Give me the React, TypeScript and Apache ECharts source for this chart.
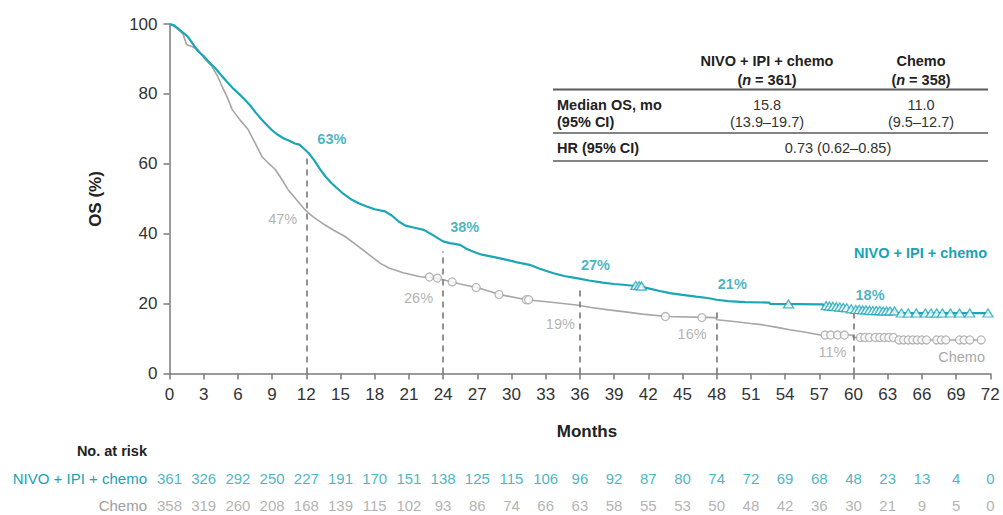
import React, { useEffect, useRef } from "react";
import * as echarts from "echarts";

const FONT = "'Liberation Sans', Arial, Helvetica, sans-serif";
const TEAL = "#1ba6b6";
const TEAL_TEXT = "#17a3b3";
const GRAY = "#a6a6a6";
const GRAY_TEXT = "#9e9e9e";

// Month ticks for the risk table
const riskMonths = [0, 3, 6, 9, 12, 15, 18, 21, 24, 27, 30, 33, 36, 39, 42, 45, 48, 51, 54, 57, 60, 63, 66, 69, 72];
const riskNivo = [361, 326, 292, 250, 227, 191, 170, 151, 138, 125, 115, 106, 96, 92, 87, 80, 74, 72, 69, 68, 48, 23, 13, 4, 0];
const riskChemo = [358, 319, 260, 208, 168, 139, 115, 102, 93, 86, 74, 66, 63, 58, 55, 53, 50, 48, 42, 36, 30, 21, 9, 5, 0];

// Kaplan-Meier curve points [month, OS %]
const kmNivo: [number, number][] = [
  [0, 100], [0.4, 99.6], [0.9, 98.3], [1.2, 97.5], [1.6, 96.4], [2.0, 94.5], [2.5, 92.2], [3.0, 90.8], [3.5, 89.0],
  [4.0, 87.4], [4.5, 85.5], [5.0, 83.6], [5.6, 81.5], [6.1, 80.0], [6.6, 78.4], [7.1, 76.6], [7.6, 74.5], [8.1, 72.6],
  [8.6, 70.9], [9.0, 69.6], [9.5, 68.3], [10.0, 67.3], [10.5, 66.6], [11.0, 65.8], [11.4, 65.5], [11.8, 64.3],
  [12.2, 63.1], [12.7, 61.0], [13.2, 58.5], [13.7, 56.3], [14.2, 54.5], [14.7, 53.0], [15.3, 51.3], [16.0, 49.7],
  [16.6, 48.7], [17.3, 47.8], [18.0, 47.0], [18.9, 46.4], [19.5, 45.2], [20.1, 43.5], [20.7, 42.3], [21.5, 41.7],
  [22.3, 41.1], [23.0, 39.8], [23.5, 38.8], [24.0, 37.8], [24.6, 37.3], [25.5, 36.8], [26.0, 35.8], [26.6, 34.9],
  [27.4, 34.0], [28.5, 33.3], [29.6, 32.5], [30.5, 31.8], [31.6, 31.1], [32.3, 30.2], [33.0, 29.4], [33.7, 28.7],
  [34.6, 27.9], [35.7, 27.3], [36.8, 26.6], [38.0, 26.0], [39.0, 25.6], [39.8, 25.4], [41.3, 24.9], [42.2, 24.2],
  [43.0, 23.6], [43.9, 23.0], [45.0, 22.5], [46.2, 22.0], [47.2, 21.6], [48.0, 21.1], [49.0, 20.7], [50.5, 20.4],
  [52.6, 20.3], [52.7, 19.9], [57.3, 19.8], [57.4, 19.4], [58.5, 19.1], [59.5, 18.7], [60.0, 18.3], [61.5, 18.0],
  [63.7, 17.9], [63.8, 17.3], [72, 17.3],
];

const kmChemo: [number, number][] = [
  [0, 100], [0.4, 99.4], [0.9, 98.0], [1.2, 97.0], [1.5, 94.1], [2.0, 93.5], [2.5, 92.7], [3.1, 90.0], [3.7, 87.9],
  [4.2, 85.2], [4.6, 82.2], [5.1, 78.8], [5.5, 75.5], [6.2, 72.5], [6.9, 69.8], [7.5, 66.0], [8.1, 62.1], [8.7, 60.1],
  [9.3, 58.3], [9.9, 55.3], [10.4, 52.6], [11.2, 49.5], [11.9, 46.8], [12.6, 44.8], [13.4, 43.0], [14.4, 41.0],
  [15.4, 39.2], [16.5, 36.5], [17.7, 33.5], [18.5, 31.5], [19.3, 30.1], [20.5, 28.8], [22.0, 27.7], [23.0, 27.4],
  [24.0, 26.8], [25.5, 25.6], [27.2, 24.4], [28.2, 23.4], [29.1, 22.5], [30.2, 21.8], [31.3, 21.1], [33.5, 20.4],
  [35.7, 19.6], [37.0, 18.9], [38.5, 18.2], [39.8, 17.7], [41.5, 17.0], [43.6, 16.3], [47.9, 16.0], [48.0, 15.4],
  [49.5, 14.9], [51.0, 14.3], [52.1, 13.9], [53.3, 13.2], [54.4, 12.5], [55.8, 11.8], [57.1, 11.0], [59.9, 11.0],
  [60.0, 10.3], [63.7, 10.3], [63.8, 9.6], [71.3, 9.6],
];

// Censor marks
const censorNivo: [number, number][] = [
  [40.9, 25.2], [41.2, 25.1], [41.4, 25.0], [54.3, 19.9], [57.6, 19.4], [57.9, 19.3], [58.2, 19.2], [58.5, 19.1],
  [58.8, 19.0], [59.1, 18.9], [59.4, 18.8], [59.8, 18.5], [60.2, 18.3], [60.5, 18.3], [60.8, 18.2], [61.1, 18.2],
  [61.4, 18.1], [61.7, 18.0], [62.0, 18.0], [62.3, 18.0], [62.6, 17.9], [62.9, 17.9], [63.2, 17.9], [63.6, 17.9],
  [64.2, 17.3], [64.8, 17.3], [65.5, 17.3], [66.3, 17.3], [66.8, 17.3], [67.3, 17.3], [67.8, 17.3], [68.5, 17.3],
  [69.3, 17.3], [70.2, 17.3], [71.8, 17.3],
];
const censorChemo: [number, number][] = [
  [22.8, 27.6], [23.5, 27.3], [24.8, 26.2], [26.9, 24.6], [28.9, 22.6], [31.3, 21.1], [31.5, 21.1], [43.5, 16.3],
  [46.7, 16.0], [57.5, 11.0], [58.0, 11.0], [58.6, 11.0], [59.2, 11.0], [60.6, 10.3], [61.0, 10.3], [61.4, 10.3],
  [61.9, 10.3], [62.3, 10.3], [62.7, 10.3], [63.1, 10.3], [63.5, 10.3], [64.0, 9.6], [64.4, 9.6], [64.8, 9.6],
  [65.2, 9.6], [65.6, 9.6], [66.0, 9.6], [66.4, 9.6], [67.3, 9.6], [67.7, 9.6], [68.1, 9.6], [69.3, 9.6],
  [69.7, 9.6], [70.2, 9.6], [71.2, 9.6],
];

// Landmark annotations
const landmarkMonths = [12, 24, 36, 48, 60];
const landmarkNivo = [63, 38, 27, 21, 18];
const landmarkChemo = [47, 26, 19, 16, 11];
const dashTop = [62, 35, 25, 18, 18];

const tealLabelOffset = [[11, -14], [7, -14], [1, -14], [1, -16], [2, -16]];
const grayLabelOffset = [[-9, 10], [-10, 15], [-5, 17], [-10, 16], [-7, 17]];

function App() {
  const ref = useRef<HTMLDivElement>(null);

  useEffect(() => {
    if (!ref.current) return;
    const chart = echarts.init(ref.current, undefined, { renderer: "svg" });

    const gridLeft = 169.5;
    const gridWidth = 820.8;

    const txt = (text: string, x: number, y: number, o: any = {}) => ({
      type: "text",
      x,
      y,
      rotation: o.rotation || 0,
      style: {
        text,
        fontFamily: FONT,
        fontSize: o.fontSize || 14.5,
        fontWeight: o.bold ? "bold" : "normal",
        fill: o.color || "#222",
        textAlign: o.align || "center",
        textVerticalAlign: "middle",
        rich: o.rich,
      },
      z: 10,
    });
    const hline = (y: number, w: number) => ({
      type: "line",
      shape: { x1: 553, y1: y, x2: 988, y2: y },
      style: { stroke: "#5a5a5a", lineWidth: w },
      z: 10,
    });
    const italicRich = {
      i: { fontStyle: "italic", fontWeight: "bold", fontSize: 14.5, fontFamily: FONT, fill: "#222" },
    };

    const option: any = {
      animation: false,
      textStyle: { fontFamily: FONT },
      grid: [
        { left: gridLeft, top: 24, width: gridWidth, height: 349.5 },
        { left: gridLeft, top: 470, width: gridWidth, height: 16 },
        { left: gridLeft, top: 497, width: gridWidth, height: 16 },
      ],
      xAxis: [
        {
          gridIndex: 0,
          type: "value",
          min: 0,
          max: 72,
          interval: 3,
          axisLine: { onZero: false, lineStyle: { color: "#7a7a7a", width: 1.5 } },
          axisTick: { length: 6, lineStyle: { color: "#7a7a7a", width: 1.5 } },
          axisLabel: { fontSize: 17, color: "#333", margin: 12, fontFamily: FONT },
          splitLine: { show: false },
        },
        { gridIndex: 1, type: "value", min: 0, max: 72, show: false },
        { gridIndex: 2, type: "value", min: 0, max: 72, show: false },
      ],
      yAxis: [
        {
          gridIndex: 0,
          type: "value",
          min: 0,
          max: 100,
          interval: 20,
          axisLine: { show: true, lineStyle: { color: "#7a7a7a", width: 1.5 } },
          axisTick: { show: true, length: 6, lineStyle: { color: "#7a7a7a", width: 1.5 } },
          axisLabel: { fontSize: 17, color: "#333", margin: 12, fontFamily: FONT },
          splitLine: { show: false },
        },
        { gridIndex: 1, type: "value", min: 0, max: 1, show: false },
        { gridIndex: 2, type: "value", min: 0, max: 1, show: false },
      ],
      series: [
        {
          type: "line",
          name: "Chemo",
          data: kmChemo,
          showSymbol: false,
          lineStyle: { color: GRAY, width: 1.6 },
          z: 3,
          markLine: {
            silent: true,
            symbol: ["none", "none"],
            label: { show: false },
            lineStyle: { type: [6, 5], color: "#777", width: 1.6 },
            data: landmarkMonths.map((m, i) => [{ coord: [m, 0] }, { coord: [m, dashTop[i]] }]),
          },
        },
        {
          type: "line",
          name: "NIVO + IPI + chemo",
          data: kmNivo,
          showSymbol: false,
          lineStyle: { color: TEAL, width: 2.2 },
          z: 4,
        },
        {
          type: "scatter",
          data: censorChemo,
          symbol: "circle",
          symbolSize: 8,
          itemStyle: { color: "#fff", borderColor: GRAY, borderWidth: 1.3 },
          z: 3,
        },
        {
          type: "scatter",
          data: censorNivo,
          symbol: "triangle",
          symbolSize: [10, 8],
          itemStyle: { color: "#fff", borderColor: TEAL, borderWidth: 1.3 },
          z: 5,
        },
        {
          type: "scatter",
          data: landmarkMonths.map((m, i) => ({
            value: [m, landmarkNivo[i]],
            label: { offset: tealLabelOffset[i] },
          })),
          symbolSize: 0.1,
          itemStyle: { color: "rgba(0,0,0,0)" },
          label: {
            show: true,
            position: "right",
            distance: 0,
            formatter: (p: any) => `${p.value[1]}%`,
            fontSize: 14.5,
            fontWeight: "bold",
            color: TEAL_TEXT,
            fontFamily: FONT,
          },
          z: 6,
        },
        {
          type: "scatter",
          data: landmarkMonths.map((m, i) => ({
            value: [m, landmarkChemo[i]],
            label: { offset: grayLabelOffset[i] },
          })),
          symbolSize: 0.1,
          itemStyle: { color: "rgba(0,0,0,0)" },
          label: {
            show: true,
            position: "left",
            distance: 0,
            formatter: (p: any) => `${p.value[1]}%`,
            fontSize: 14.5,
            color: GRAY_TEXT,
            fontFamily: FONT,
          },
          z: 6,
        },
        {
          type: "scatter",
          xAxisIndex: 1,
          yAxisIndex: 1,
          data: riskMonths.map((m, i) => [m, 0.5, riskNivo[i]]),
          symbolSize: 0.1,
          itemStyle: { color: "rgba(0,0,0,0)" },
          label: {
            show: true,
            position: "inside",
            formatter: (p: any) => `${p.value[2]}`,
            fontSize: 15,
            color: TEAL_TEXT,
            fontFamily: FONT,
          },
        },
        {
          type: "scatter",
          xAxisIndex: 2,
          yAxisIndex: 2,
          data: riskMonths.map((m, i) => [m, 0.5, riskChemo[i]]),
          symbolSize: 0.1,
          itemStyle: { color: "rgba(0,0,0,0)" },
          label: {
            show: true,
            position: "inside",
            formatter: (p: any) => `${p.value[2]}`,
            fontSize: 15,
            color: GRAY_TEXT,
            fontFamily: FONT,
          },
        },
      ],
      graphic: [
        txt("OS (%)", 95, 199, { bold: true, fontSize: 17, rotation: Math.PI / 2 }),
        txt("Months", 587, 431, { bold: true, fontSize: 17 }),
        txt("No. at risk", 147, 451, { bold: true, align: "right" }),
        txt("NIVO + IPI + chemo", 147, 478, { align: "right", fontSize: 15, color: TEAL_TEXT }),
        txt("Chemo", 147, 505, { align: "right", fontSize: 15, color: GRAY_TEXT }),
        txt("NIVO + IPI + chemo", 987, 253, { align: "right", bold: true, color: TEAL_TEXT }),
        txt("Chemo", 985, 357, { align: "right", color: "#a8a8a8" }),
        // table
        txt("NIVO + IPI + chemo", 767, 61, { bold: true }),
        txt("({i|n} = 361)", 767, 80, { bold: true, rich: italicRich }),
        txt("Chemo", 921, 61, { bold: true }),
        txt("({i|n} = 358)", 921, 80, { bold: true, rich: italicRich }),
        hline(89.5, 2),
        txt("Median OS, mo", 557, 105, { bold: true, align: "left" }),
        txt("(95% CI)", 557, 122, { bold: true, align: "left" }),
        txt("15.8", 767, 105, { color: "#333" }),
        txt("(13.9–19.7)", 767, 122, { color: "#333" }),
        txt("11.0", 921, 105, { color: "#333" }),
        txt("(9.5–12.7)", 921, 122, { color: "#333" }),
        hline(133, 1.5),
        txt("HR (95% CI)", 557, 147.5, { bold: true, align: "left" }),
        txt("0.73 (0.62–0.85)", 838, 147.5, { color: "#333" }),
        hline(161, 1.5),
      ],
    };

    chart.setOption(option);
    return () => chart.dispose();
  }, []);

  return (
    <div
      ref={ref}
      style={{ position: "fixed", left: 0, top: 0, width: 1003, height: 515, background: "#fff" }}
    />
  );
}

export default App;
